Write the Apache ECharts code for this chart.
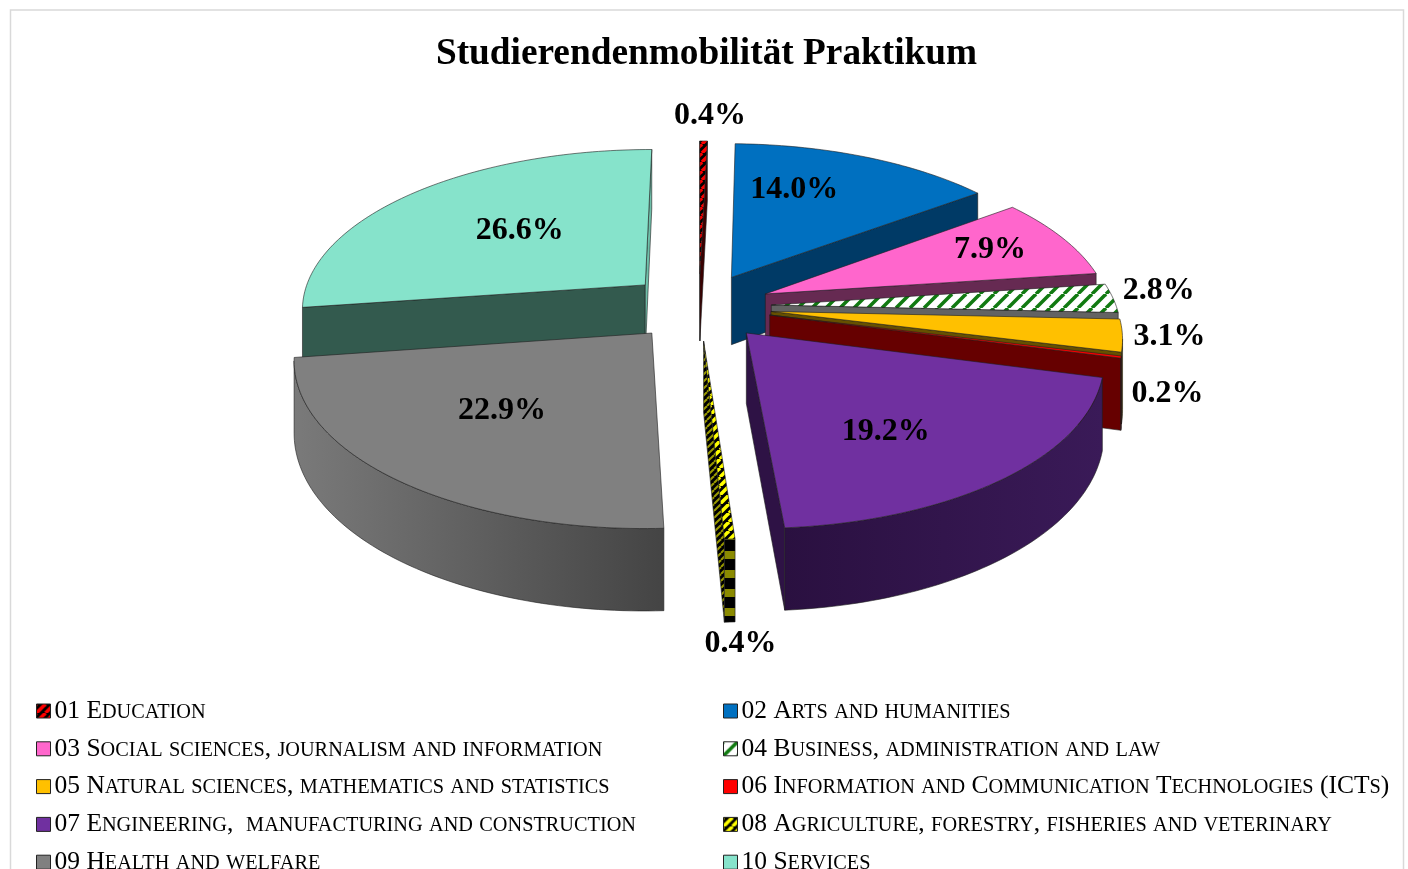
<!DOCTYPE html>
<html>
<head>
<meta charset="utf-8">
<style>
html, body { margin: 0; background: #fff; }
#chart { width: 1408px; height: 869px; }
</style>
<script src="https://cdn.jsdelivr.net/npm/echarts@6/dist/echarts.min.js"></script>
</head>
<body>
<div id="chart"></div>
<script>
const chartTitle = 'Studierendenmobilität Praktikum';
const categories = [
    '01 Education',
    '02 Arts and humanities',
    '03 Social sciences, journalism and information',
    '04 Business, administration and law',
    '05 Natural sciences, mathematics and statistics',
    '06 Information and Communication Technologies (ICTs)',
    '07 Engineering,  manufacturing and construction',
    '08 Agriculture, forestry, fisheries and veterinary',
    '09 Health and welfare',
    '10 Services'
];
const shares = [0.4, 14.0, 7.9, 2.8, 3.1, 0.2, 19.2, 0.4, 22.9, 26.6];

// look of each slice
const topColors = ['#ff0000', '#0070c0', '#ff66cc', '#ffffff', '#ffc000', '#ff0000', '#7030a0', '#ffff00', '#808080', '#86e3cb'];
const faceColors = ['#3a0000', '#003a66', '#662a52', '#636363', '#665000', '#660000', '#2e1245', '#666600', '#4a4a4a', '#335a4e'];
const endFaceColors = faceColors.slice();
endFaceColors[9] = '#6fbfa9';
const wallColors = [
    ['#7f0000', '#7f0000'], ['#003a66', '#003a66'], ['#662a52', '#662a52'], ['#636363', '#636363'], ['#665000', '#665000'],
    ['#660000', '#660000'], ['#2a1040', '#3a1a58'], ['#666600', '#666600'], ['#7a7a7a', '#444444'], ['#335a4e', '#335a4e']
];
// far slices are painted first
const paintOrder = [0, 1, 9, 2, 3, 4, 5, 6, 8, 7];
const labelRadius = [1.12, 0.62, 0.72, 1.2, 1.2, 1.2, 0.62, 1.12, 0.62, 0.62];
const labelNudge = [[6, -11], [-24, -10], [8, -3], [-22, -6], [-25, -4], [-27, 28], [-14, 13], [7, 76], [3, -8], [22, 5]];

// camera of the tilted pie
const cx = 699, cy = 306.5, scaleX = 345, scaleY = 160, persp = 0.14, depth = 69, explode = 0.21;
const serif = '"Liberation Serif", "Times New Roman", serif';

function stripes(bg, fg, size, width) {
    const c = document.createElement('canvas');
    c.width = c.height = size;
    const g = c.getContext('2d');
    g.fillStyle = bg;
    g.fillRect(0, 0, size, size);
    g.strokeStyle = fg;
    g.lineWidth = width;
    [-size, 0, size].forEach(function (d) {
        g.beginPath();
        g.moveTo(d, size);
        g.lineTo(d + size, 0);
        g.stroke();
    });
    return { image: c, repeat: 'repeat' };
}
function bars(bg, fg, size, width) {
    const c = document.createElement('canvas');
    c.width = c.height = size;
    const g = c.getContext('2d');
    g.fillStyle = bg;
    g.fillRect(0, 0, size, size);
    g.fillStyle = fg;
    g.fillRect(0, 0, size, width);
    return { image: c, repeat: 'repeat' };
}
topColors[0] = stripes('#000000', '#ff0000', 9, 3.5);
topColors[3] = stripes('#ffffff', '#117a11', 14, 3.5);
topColors[7] = stripes('#000000', '#ffff00', 9, 3.5);
wallColors[0] = [stripes('#000000', '#7f0000', 9, 3.5), null];
faceColors[7] = stripes('#000000', '#9a9a00', 7, 2);
endFaceColors[7] = faceColors[7];
wallColors[7] = [bars('#000000', '#8a8a00', 19, 8), null];

const total = shares.reduce(function (a, b) { return a + b; }, 0);
function startAngle(i) {
    let sum = 0;
    for (let k = 0; k < i; k++) sum += shares[k];
    return sum / total * Math.PI * 2;
}

function project(x, y, low) {
    const w = 1 + persp * y;
    return [cx + scaleX * x / w, cy - scaleY * y / w + (low ? depth / w : 0)];
}
function area(pts) {
    let a = 0;
    pts.forEach(function (p, i) {
        const q = pts[(i + 1) % pts.length];
        a += p[0] * q[1] - q[0] * p[1];
    });
    return a / 2;
}

function renderSlice(i, value, api) {
    const a0 = startAngle(i);
    const a1 = a0 + value / total * Math.PI * 2;
    const mid = (a0 + a1) / 2;
    const ox = explode * Math.sin(mid), oy = explode * Math.cos(mid);
    const rim = function (a, low) { return project(ox + Math.sin(a), oy + Math.cos(a), low); };
    const apex = function (low) { return project(ox, oy, low); };
    const line = { stroke: 'rgba(30,30,30,0.75)', lineWidth: 0.8 };
    const children = [];
    const add = function (pts, fill) {
        children.push({ type: 'polygon', silent: true, shape: { points: pts }, style: Object.assign({ fill: fill }, line) });
    };

    // the two cut faces
    const f0 = [apex(false), apex(true), rim(a0, true), rim(a0, false)];
    const f1 = [apex(false), rim(a1, false), rim(a1, true), apex(true)];
    if (area(f0) > 0) add(f0, faceColors[i]);
    if (area(f1) > 0) add(f1, endFaceColors[i]);

    // rounded wall, only where it looks at the camera
    const steps = Math.max(2, Math.ceil((a1 - a0) / 0.02));
    let top = [], bottom = [];
    for (let k = 0; k < steps; k++) {
        const b0 = a0 + (a1 - a0) * k / steps, b1 = a0 + (a1 - a0) * (k + 1) / steps;
        if (area([rim(b0, false), rim(b1, false), rim(b1, true), rim(b0, true)]) < 0) {
            if (!top.length) { top.push(rim(b0, false)); bottom.push(rim(b0, true)); }
            top.push(rim(b1, false));
            bottom.push(rim(b1, true));
        }
    }
    if (top.length) {
        const wc = wallColors[i];
        const fill = wc[1] ? { type: 'linear', x: 0, y: 0, x2: 1, y2: 0, colorStops: [{ offset: 0, color: wc[0] }, { offset: 1, color: wc[1] }] } : wc[0];
        add(top.concat(bottom.reverse()), fill);
    }

    // top surface
    const surface = [apex(false)];
    const n = Math.max(2, Math.ceil((a1 - a0) / 0.02));
    for (let k = 0; k <= n; k++) surface.push(rim(a0 + (a1 - a0) * k / n, false));
    add(surface, topColors[i]);

    const lp = project(ox + labelRadius[i] * Math.sin(mid), oy + labelRadius[i] * Math.cos(mid), false);
    children.push({
        type: 'text', silent: true,
        style: {
            x: lp[0] + labelNudge[i][0], y: lp[1] + labelNudge[i][1],
            text: value.toFixed(1) + '%',
            align: 'center', verticalAlign: 'middle',
            font: 'bold 32px ' + serif, fill: '#000'
        }
    });
    return { type: 'group', children: children };
}

// small caps: lower case letters become smaller capitals
function smallCaps(name) {
    return name.replace(/[a-z]+|[^a-z]+/g, function (run) {
        return /[a-z]/.test(run) ? '{s|' + run.toUpperCase() + '}' : '{b|' + run + '}';
    });
}
function legendAt(left, names) {
    return {
        orient: 'vertical', left: left, top: 698, height: 300, padding: 0,
        itemWidth: 14, itemHeight: 14, itemGap: 11.8,
        selectedMode: false,
        itemStyle: { borderColor: '#222', borderWidth: 1 },
        data: names.map(function (n) { return { name: n, icon: 'rect' }; }),
        formatter: smallCaps,
        textStyle: {
            padding: [0, 0, 0, -1],
            rich: {
                b: { fontFamily: serif, fontSize: 25.5, lineHeight: 24, color: '#000' },
                s: { fontFamily: serif, fontSize: 20.3, lineHeight: 21, padding: [3, 0, 0, 0], color: '#000' }
            }
        }
    };
}

const series = categories.map(function (name, i) {
    return {
        type: 'custom',
        name: name,
        coordinateSystem: 'none',
        z: 2 + paintOrder.indexOf(i),
        itemStyle: { color: topColors[i] },
        data: [[shares[i]]],
        renderItem: function (params, api) { return renderSlice(i, api.value(0), api); }
    };
});

const chart = echarts.init(document.getElementById('chart'));
chart.setOption({
    animation: false,
    backgroundColor: '#fff',
    title: {
        text: chartTitle, left: 701.5, top: 31, textAlign: 'center',
        textStyle: { fontFamily: serif, fontWeight: 'bold', fontSize: 37.3, color: '#000' }
    },
    legend: [
        legendAt(36, categories.filter(function (n, i) { return i % 2 === 0; })),
        legendAt(723, categories.filter(function (n, i) { return i % 2 === 1; }))
    ],
    graphic: [{
        type: 'rect', silent: true, z: 0,
        shape: { x: 10.5, y: 10, width: 1393, height: 900 },
        style: { fill: 'none', stroke: '#d9d9d9', lineWidth: 1.5 }
    }],
    series: series
});
</script>
</body>
</html>
